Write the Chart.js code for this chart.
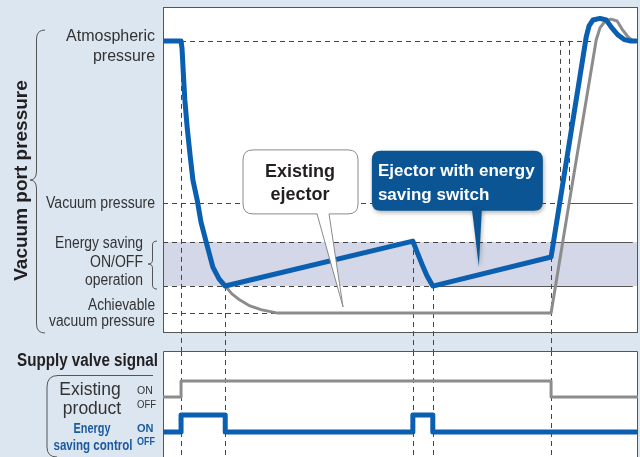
<!DOCTYPE html>
<html>
<head>
<meta charset="utf-8">
<script src="https://cdn.jsdelivr.net/npm/chart.js@4.4.1/dist/chart.umd.min.js"></script>
<style>
  html, body { margin: 0; padding: 0; background: #dce6f1; }
  #wrap { position: relative; width: 640px; height: 457px; overflow: hidden; }
  canvas { position: absolute; left: 0; top: 0; }
</style>
</head>
<body>
<div id="wrap">
  <canvas id="pressureChart" width="640" height="457"></canvas>
  <canvas id="signalChart" width="640" height="457"></canvas>
</div>
<script>
// time runs 0..100 across the panels, pressure 0..100 bottom to top
const ATM = 89.6, VACUUM = 39.9, SAVE_HIGH = 27.9, SAVE_LOW = 14.4, ACHIEVABLE = 6.1;

const savingTime = [0, 3.8, 4.0, 4.3, 4.6, 5.1, 5.7, 6.3, 7.2, 8.0, 9.1, 10.5, 11.8, 13.1,
  52.6, 53.5, 54.5, 55.6, 56.8, 81.7, 89.1, 89.7, 90.5, 92.0, 93.3, 94.5, 95.8, 97.1, 98.3, 99.6];
const savingPressure = [89.6, 89.6, 87.4, 79.1, 71.5, 62.9, 54.6, 46.9, 40.8, 34.0, 27.9, 20.2, 16.6, 14.4,
  28.2, 24.8, 21.2, 17.5, 14.4, 23.3, 90.8, 94.2, 96.0, 96.5, 96.0, 93.6, 91.4, 90.0, 89.6, 89.6];

const existingTime = [0, 3.8, 4.0, 4.3, 4.6, 5.1, 5.7, 6.3, 7.2, 8.0, 9.1, 10.5, 11.8, 13.1,
  14.5, 16.2, 18.3, 20.8, 24.2, 81.7, 85.5, 91.2, 92.0, 93.1, 94.3, 95.6, 96.6, 97.9, 98.9, 100];
const existingPressure = [89.6, 89.6, 87.4, 79.1, 71.5, 62.9, 54.6, 46.9, 40.8, 34.0, 27.9, 20.2, 16.6, 14.4,
  12.0, 10.1, 8.3, 7.1, 6.1, 6.1, 39.9, 89.9, 93.6, 95.7, 96.3, 95.7, 93.3, 90.8, 89.7, 89.6];

// supply valve signal, 1 = ON, 0 = OFF
const signalTime = [0, 3.8, 13.1, 52.6, 56.8, 81.7, 100];
const existingSignal = [0, 1, 1, 1, 1, 0, 0];
const savingSignal = [0, 1, 0, 1, 0, 0, 0];

// event times (vertical guide lines) and the level each one starts / stops at
const eventTime = [3.8, 13.1, 52.6, 56.8, 81.7, 83.6, 85.5];
const eventFrom = [ATM, SAVE_LOW, 28.2, SAVE_LOW, 23.3, ATM, ATM];
const eventTo = [null, null, null, null, null, VACUUM, VACUUM];

const FONT = "'Liberation Sans', Arial, Helvetica, sans-serif";
const BLUE = '#0a5fb0';
const GRAY = '#8c8c8c';

function pts(xs, ys) { return xs.map((v, i) => ({x: v, y: ys[i]})); }

function text(ctx, s, x, y, font, color, align, maxW) {
  ctx.font = font;
  ctx.fillStyle = color;
  ctx.textAlign = align || 'left';
  ctx.textBaseline = 'alphabetic';
  if (maxW) ctx.fillText(s, x, y, maxW); else ctx.fillText(s, x, y);
}

function rrect(ctx, l, t, w, h, r) {
  ctx.beginPath();
  ctx.moveTo(l + r, t);
  ctx.lineTo(l + w - r, t);
  ctx.quadraticCurveTo(l + w, t, l + w, t + r);
  ctx.lineTo(l + w, t + h - r);
  ctx.quadraticCurveTo(l + w, t + h, l + w - r, t + h);
  ctx.lineTo(l + r, t + h);
  ctx.quadraticCurveTo(l, t + h, l, t + h - r);
  ctx.lineTo(l, t + r);
  ctx.quadraticCurveTo(l, t, l + r, t);
  ctx.closePath();
}

function seg(ctx, x1, y1, x2, y2, dashed, color) {
  ctx.beginPath();
  ctx.setLineDash(dashed ? [5, 4] : []);
  ctx.strokeStyle = color;
  ctx.lineWidth = 1;
  ctx.moveTo(x1, y1);
  ctx.lineTo(x2, y2);
  ctx.stroke();
  ctx.setLineDash([]);
}

function brace(ctx, xTip, xSpine, xEnd, top, mid, bottom, r) {
  ctx.beginPath();
  ctx.moveTo(xEnd, top);
  ctx.quadraticCurveTo(xSpine, top, xSpine, top + r);
  ctx.lineTo(xSpine, mid - r);
  ctx.quadraticCurveTo(xSpine, mid, xTip, mid);
  ctx.quadraticCurveTo(xSpine, mid, xSpine, mid + r);
  ctx.lineTo(xSpine, bottom - r);
  ctx.quadraticCurveTo(xSpine, bottom, xEnd, bottom);
  ctx.stroke();
}

const pressurePanel = {
  id: 'pressurePanel',
  beforeDatasetsDraw(chart) {
    const {ctx, chartArea: a, scales: {x, y}} = chart;
    const px = v => x.getPixelForValue(v), py = v => y.getPixelForValue(v);
    ctx.save();
    ctx.fillStyle = '#fff';
    ctx.fillRect(a.left, a.top, a.right - a.left, a.bottom - a.top);
    ctx.fillStyle = '#d3d7e7';
    ctx.fillRect(a.left, py(SAVE_HIGH), a.right - a.left, py(SAVE_LOW) - py(SAVE_HIGH));

    // level lines: dashed up to the event, solid after
    const levels = [[ATM, 91.2, null], [VACUUM, 85.5, 98.9], [SAVE_HIGH, 81.7, 98.9],
                    [SAVE_LOW, 56.8, 98.9], [ACHIEVABLE, 81.7, null]];
    levels.forEach(([v, d, s]) => {
      const yy = Math.round(py(v)) + 0.5;
      seg(ctx, a.left, yy, px(d), yy, true, '#444');
      if (s) seg(ctx, px(d), yy, px(s), yy, false, '#555');
    });

    // vertical guides run down through the gap to the bottom of the page
    eventTime.forEach((t, i) => {
      const xx = Math.round(px(t)) + 0.5;
      const yEnd = eventTo[i] === null ? chart.height : py(eventTo[i]);
      seg(ctx, xx, py(eventFrom[i]), xx, yEnd, true, '#444');
    });

    ctx.strokeStyle = '#555';
    ctx.lineWidth = 1;
    ctx.strokeRect(a.left + 0.5, a.top + 0.5, a.right - a.left - 1, a.bottom - a.top - 1);
    ctx.restore();
  },
  afterDatasetsDraw(chart) {
    const {ctx, scales: {x, y}} = chart;
    ctx.save();
    // "Existing ejector" callout, tail points at the grey curve
    let tx = x.getPixelForValue(37.9), ty = y.getPixelForValue(8.0);
    let L = tx - 100, T = ty - 157, W = 115, H = 64;
    rrect(ctx, L, T, W, H, 10);
    ctx.fillStyle = '#fff'; ctx.fill();
    ctx.strokeStyle = '#8a8a8a'; ctx.lineWidth = 1; ctx.stroke();
    ctx.beginPath();
    ctx.moveTo(tx - 26, T + H - 1.5); ctx.lineTo(tx, ty); ctx.lineTo(tx - 14, T + H - 1.5);
    ctx.closePath(); ctx.fill();
    ctx.beginPath();
    ctx.moveTo(tx - 26, T + H); ctx.lineTo(tx, ty); ctx.lineTo(tx - 14, T + H);
    ctx.stroke();
    text(ctx, 'Existing', L + 57, T + 27, 'bold 18px ' + FONT, '#231f20', 'center');
    text(ctx, 'ejector', L + 57, T + 50, 'bold 18px ' + FONT, '#231f20', 'center');

    // "Ejector with energy saving switch" callout, tail points at the blue curve
    tx = x.getPixelForValue(66.5); ty = y.getPixelForValue(20.3);
    L = tx - 107; T = ty - 116; W = 171; H = 60;
    ctx.shadowColor = 'rgba(0,0,0,0.3)'; ctx.shadowBlur = 4; ctx.shadowOffsetX = 1; ctx.shadowOffsetY = 2;
    rrect(ctx, L, T, W, H, 9);
    ctx.fillStyle = '#0b5594'; ctx.fill();
    ctx.beginPath();
    ctx.moveTo(tx - 7, T + H - 2); ctx.lineTo(tx, ty); ctx.lineTo(tx + 3, T + H - 2);
    ctx.closePath(); ctx.fill();
    ctx.shadowColor = 'transparent';
    text(ctx, 'Ejector with energy', L + 6, T + 25, 'bold 17px ' + FONT, '#fff', 'left');
    text(ctx, 'saving switch', L + 6, T + 49, 'bold 17px ' + FONT, '#fff', 'left');
    ctx.restore();
  },
  afterDraw(chart) {
    const {ctx, scales: {y}} = chart;
    const py = v => y.getPixelForValue(v);
    const c = '#333', f = '16px ' + FONT;
    ctx.save();
    text(ctx, 'Atmospheric', 155, py(ATM), f, c, 'right', 91);
    text(ctx, 'pressure', 155, py(ATM) + 20, f, c, 'right', 62);
    text(ctx, 'Vacuum pressure', 155, py(VACUUM) + 5, f, c, 'right', 109);
    text(ctx, 'Energy saving', 143, py(SAVE_HIGH) + 6, f, c, 'right', 88);
    text(ctx, 'ON/OFF', 143, py(SAVE_HIGH) + 25, f, c, 'right', 53);
    text(ctx, 'operation', 143, py(SAVE_HIGH) + 43, f, c, 'right', 58);
    text(ctx, 'Achievable', 155, py(ACHIEVABLE) - 3, f, c, 'right', 67);
    text(ctx, 'vacuum pressure', 155, py(ACHIEVABLE) + 13, f, c, 'right', 106);

    ctx.strokeStyle = '#555';
    ctx.lineWidth = 1;
    brace(ctx, 30, 36.5, 45, 30, 180, 333, 9);
    brace(ctx, 148, 152.5, 157, py(SAVE_HIGH) - 1, (py(SAVE_HIGH) + py(SAVE_LOW)) / 2, py(SAVE_LOW) + 3, 4);

    ctx.translate(27, 180.5);
    ctx.rotate(-Math.PI / 2);
    text(ctx, 'Vacuum port pressure', 0, 0, 'bold 19px ' + FONT, '#231f20', 'center');
    ctx.restore();
  }
};

const signalPanel = {
  id: 'signalPanel',
  beforeDatasetsDraw(chart) {
    const {ctx, chartArea: a, scales: {x}} = chart;
    ctx.save();
    ctx.fillStyle = '#fff';
    ctx.fillRect(a.left, a.top, a.right - a.left, a.bottom - a.top);
    eventTime.slice(0, 5).forEach(t => {
      const xx = Math.round(x.getPixelForValue(t)) + 0.5;
      seg(ctx, xx, a.top, xx, a.bottom, true, '#444');
    });
    ctx.strokeStyle = '#555';
    ctx.lineWidth = 1;
    ctx.beginPath();
    ctx.moveTo(a.left + 0.5, a.bottom);
    ctx.lineTo(a.left + 0.5, a.top + 0.5);
    ctx.lineTo(a.right - 0.5, a.top + 0.5);
    ctx.lineTo(a.right - 0.5, a.bottom);
    ctx.stroke();
    ctx.restore();
  },
  afterDraw(chart) {
    const {ctx, scales} = chart;
    const ye = scales.yExisting, ys = scales.ySaving;
    const dark = '#333', blue = '#1b5a9e';
    ctx.save();
    text(ctx, 'Supply valve signal', 17, 366, 'bold 18px ' + FONT, '#231f20', 'left', 141);

    ctx.strokeStyle = '#555';
    ctx.lineWidth = 1;
    ctx.beginPath();
    ctx.moveTo(153, 375.5);
    ctx.lineTo(58, 375.5);
    ctx.quadraticCurveTo(47, 375.5, 47, 387);
    ctx.lineTo(47, 447);
    ctx.quadraticCurveTo(47, 457, 57, 457);
    ctx.stroke();

    text(ctx, 'Existing', 90, ye.getPixelForValue(0) - 2, '17.5px ' + FONT, dark, 'center');
    text(ctx, 'product', 92, ye.getPixelForValue(0) + 17, '17.5px ' + FONT, dark, 'center');
    text(ctx, 'ON', 137, ye.getPixelForValue(1) + 13, '10.5px ' + FONT, dark, 'left', 16);
    text(ctx, 'OFF', 137, ye.getPixelForValue(0) + 11, '10.5px ' + FONT, dark, 'left', 19);

    text(ctx, 'Energy', 92, ys.getPixelForValue(0) + 1, 'bold 15px ' + FONT, blue, 'center', 37);
    text(ctx, 'saving control', 93, ys.getPixelForValue(0) + 18, 'bold 15px ' + FONT, blue, 'center', 79);
    text(ctx, 'ON', 137, ys.getPixelForValue(1) + 17, 'bold 11px ' + FONT, blue, 'left', 17);
    text(ctx, 'OFF', 137, ys.getPixelForValue(0) + 13, 'bold 11px ' + FONT, blue, 'left', 18);
    ctx.restore();
  }
};

const common = {
  responsive: false,
  animation: false,
  events: [],
  plugins: { legend: { display: false }, tooltip: { enabled: false } },
  elements: { point: { radius: 0 }, line: { tension: 0, borderJoinStyle: 'round' } }
};

new Chart(document.getElementById('pressureChart').getContext('2d'), {
  type: 'line',
  data: {
    datasets: [
      { label: 'Ejector with energy saving switch', data: pts(savingTime, savingPressure),
        borderColor: BLUE, borderWidth: 5, borderCapStyle: 'round', fill: false },
      { label: 'Existing ejector', data: pts(existingTime, existingPressure),
        borderColor: GRAY, borderWidth: 3, fill: false }
    ]
  },
  options: Object.assign({}, common, {
    layout: { padding: { left: 163, right: 2, top: 7, bottom: 124 } },
    scales: {
      x: { type: 'linear', min: 0, max: 100, display: false },
      y: { type: 'linear', min: 0, max: 100, display: false }
    }
  }),
  plugins: [pressurePanel]
});

new Chart(document.getElementById('signalChart').getContext('2d'), {
  type: 'line',
  data: {
    datasets: [
      { label: 'Energy saving control', data: pts(signalTime, savingSignal), yAxisID: 'ySaving',
        stepped: 'before', borderColor: BLUE, borderWidth: 5, fill: false },
      { label: 'Existing product', data: pts(signalTime, existingSignal), yAxisID: 'yExisting',
        stepped: 'before', borderColor: GRAY, borderWidth: 3, fill: false }
    ]
  },
  options: Object.assign({}, common, {
    layout: { padding: { left: 163, right: 2, top: 351, bottom: 0 } },
    scales: {
      x: { type: 'linear', min: 0, max: 100, display: false },
      yExisting: { type: 'linear', min: -3.75, max: 2.875, display: false },
      ySaving: { type: 'linear', min: -1.47, max: 4.76, display: false }
    }
  }),
  plugins: [signalPanel]
});
</script>
</body>
</html>
